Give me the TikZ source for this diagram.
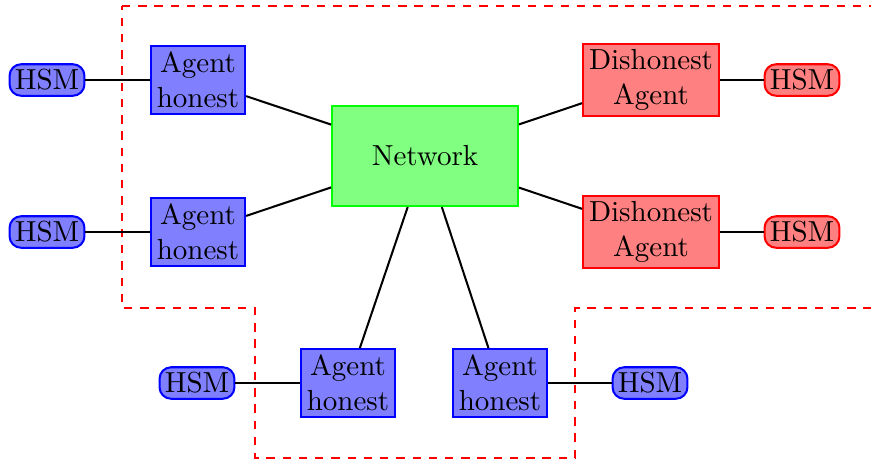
\documentclass[tikz,border=0pt]{standalone}
\usetikzlibrary{calc}
\begin{document}
\begin{tikzpicture}[x=0.3448pt,y=-0.3448pt,
  agent/.style={draw=blue,fill=blue!50,line width=0.7pt,inner sep=2pt,align=center,text width=28.5pt},
  bad/.style={draw=red,fill=red!50,line width=0.7pt,inner sep=2pt,align=center},
  hsmblue/.style={draw=blue,fill=blue!50,line width=0.7pt,rounded corners=4pt,inner sep=1.8pt},
  hsmred/.style={draw=red,fill=red!50,line width=0.7pt,rounded corners=4pt,inner sep=1.8pt},
  net/.style={draw=green,fill=green!50,line width=0.7pt,minimum width=64pt,minimum height=34.5pt},
  link/.style={line width=0.7pt},
  zone/.style={draw=red,line width=0.9pt,dash pattern=on 2.9pt off 2.7pt}]
\useasboundingbox (0,0) rectangle (871,463);
\begin{scope}
\clip (0,0) rectangle (871,463);
\draw[zone] (122,6) -- (890,6) -- (890,308) -- (575,308) -- (575,458) -- (255,458) -- (255,308) -- (122,308) -- cycle;
\end{scope}
\node[net] (N) at (425,156) {Network};
\node[agent] (A1) at (198,80) {Agent\\honest};
\node[agent] (A2) at (198,232) {Agent\\honest};
\node[agent] (A3) at (348,383) {Agent\\honest};
\node[agent] (A4) at (500,383) {Agent\\honest};
\node[bad] (D1) at (651,80) {Dishonest\\Agent};
\node[bad] (D2) at (651,232) {Dishonest\\Agent};
\node[hsmblue] (H1) at (47,80) {HSM};
\node[hsmblue] (H2) at (47,232) {HSM};
\node[hsmblue] (H3) at (197,383) {HSM};
\node[hsmblue] (H4) at (650,383) {HSM};
\node[hsmred] (H5) at (802,80) {HSM};
\node[hsmred] (H6) at (802,232) {HSM};
\foreach \a/\b in {H1/A1,H2/A2,H3/A3,H4/A4,H5/D1,H6/D2,N/A1,N/A2,N/A3,N/A4,N/D1,N/D2}
  \draw[link] (\a) -- (\b);
\end{tikzpicture}
\end{document}
